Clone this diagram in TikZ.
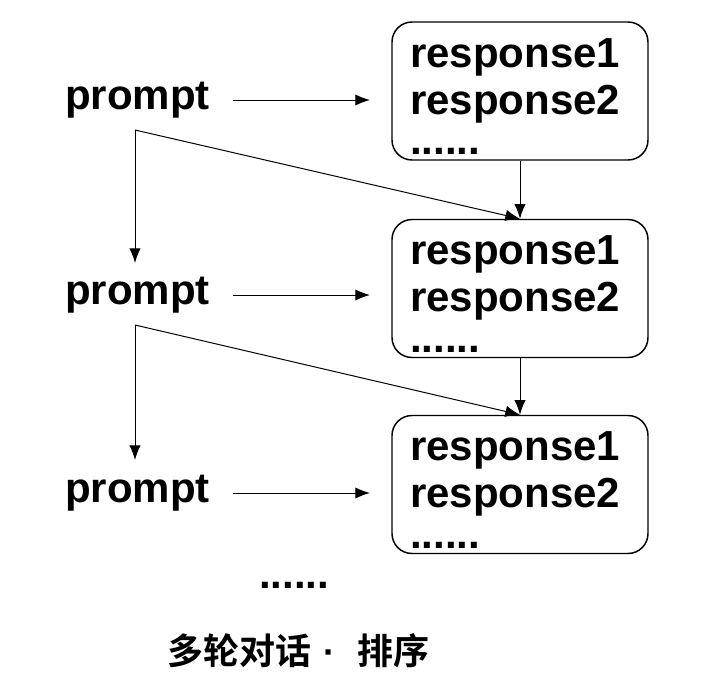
\documentclass[tikz,border=0pt]{standalone}
\usepackage{fontspec}
\setmainfont{Liberation Sans}
\newfontfamily\cjk{Noto Sans CJK SC}[BoldFont={Noto Sans CJK SC Bold}]
\usetikzlibrary{arrows.meta}
\tikzset{
  px/.style={x=0.75pt,y=-0.75pt},
  rbox/.style={draw,line width=1.1pt,rounded corners=15pt,minimum width=192pt,minimum height=103.5pt,
    text width=165pt,align=left,inner xsep=13.5pt,inner ysep=0pt,
    font=\fontsize{31.5}{35.25}\selectfont\bfseries},
  ptext/.style={inner sep=0pt,font=\fontsize{31.5}{34}\selectfont\bfseries},
  arr/.style={line width=0.75pt,-{Latex[length=11pt,width=8.5pt]}},
}
\begin{document}
\begin{tikzpicture}[px]
\useasboundingbox (0,0) rectangle (720,692);
% boxes
\node[rbox] (b1) at (520,91) {\rule{0pt}{30pt}response1\\response2\\[-5pt]......};
\node[rbox] (b2) at (520,288.5) {\rule{0pt}{30pt}response1\\response2\\[-5pt]......};
\node[rbox] (b3) at (520,484.5) {\rule{0pt}{30pt}response1\\response2\\[-5pt]......};
% prompts
\node[ptext] (p1) at (137.5,100) {prompt};
\node[ptext] (p2) at (137.5,295) {prompt};
\node[ptext] (p3) at (137.5,493) {prompt};
% split points
\coordinate (s1) at (135,130);
\coordinate (s2) at (135,325);
\coordinate (e1) at (135,263);
\coordinate (e2) at (135,460);
% horizontal arrows
\draw[arr,shorten <=17pt,shorten >=16pt] (p1.east) -- (p1.east -| b1.west);
\draw[arr,shorten <=17pt,shorten >=16pt] (p2.east) -- (p2.east -| b2.west);
\draw[arr,shorten <=17pt,shorten >=16pt] (p3.east) -- (p3.east -| b3.west);
% down arrows
\draw[arr] (s1) -- (e1);
\draw[arr] (s2) -- (e2);
% diagonal arrows
\draw[arr] (s1) -- (b2.north);
\draw[arr] (s2) -- (b3.north);
% vertical arrows between boxes
\draw[arr] (b1.south) -- (b2.north);
\draw[arr] (b2.south) -- (b3.north);
% bottom
\node[inner sep=0pt,anchor=base west,font=\fontsize{31.5}{35}\selectfont\bfseries] (dots) at (259,588) {......};
\node[inner sep=0pt,font=\cjk\bfseries\fontsize{27}{30}\selectfont] (title) at (298.5,651) {多轮对话\kern9pt{\rmfamily\bfseries\fontsize{27}{27}\selectfont ·}\kern16pt 排序};
\end{tikzpicture}
\end{document}
